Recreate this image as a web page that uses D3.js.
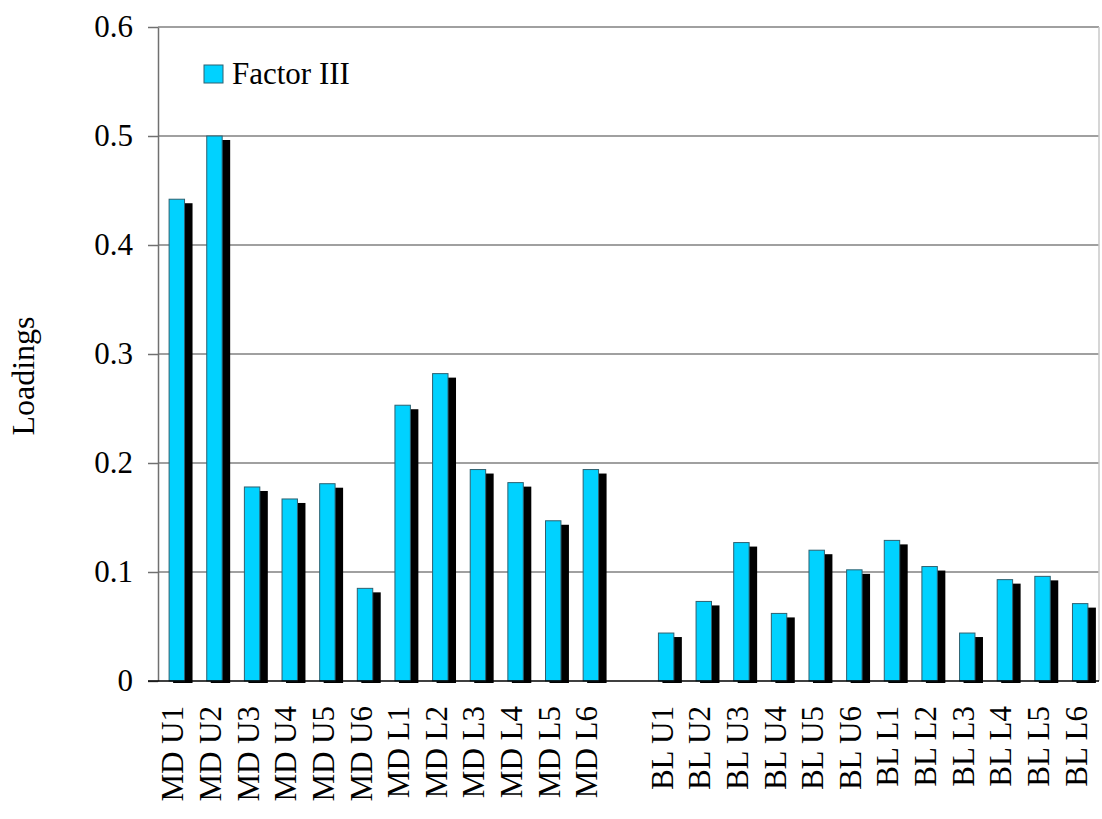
<!DOCTYPE html>
<html>
<head>
<meta charset="utf-8">
<script src="https://cdn.jsdelivr.net/npm/d3@7"></script>
<style>
  html, body { margin: 0; padding: 0; background: #fff; }
  svg { display: block; }
  text { font-family: "Liberation Serif", "Times New Roman", serif; fill: #000; }
</style>
</head>
<body>
<svg id="chart" width="1102" height="819"></svg>
<script>
// Factor III loadings for the MD and BL measurement sites
const mdCategories = ["MD U1", "MD U2", "MD U3", "MD U4", "MD U5", "MD U6",
                      "MD L1", "MD L2", "MD L3", "MD L4", "MD L5", "MD L6"];
const blCategories = ["BL U1", "BL U2", "BL U3", "BL U4", "BL U5", "BL U6",
                      "BL L1", "BL L2", "BL L3", "BL L4", "BL L5", "BL L6"];
const mdValues = [0.442, 0.500, 0.178, 0.167, 0.181, 0.085,
                  0.253, 0.282, 0.194, 0.182, 0.147, 0.194];
const blValues = [0.044, 0.073, 0.127, 0.062, 0.120, 0.102,
                  0.129, 0.105, 0.044, 0.093, 0.096, 0.071];
const yTicks = [0, 0.1, 0.2, 0.3, 0.4, 0.5, 0.6];
const seriesName = "Factor III";
const yTitle = "Loadings";

const GAP = "__gap__";
const domain = [...mdCategories, GAP, ...blCategories];
const data = [
  ...mdCategories.map((c, i) => ({ cat: c, value: mdValues[i] })),
  ...blCategories.map((c, i) => ({ cat: c, value: blValues[i] }))
];

const svg = d3.select("#chart");
const plotLeft = 158, plotRight = 1099, plotTop = 27, plotBottom = 681;

const x = d3.scaleBand().domain(domain).range([plotLeft, plotRight])
  .paddingInner(0.59).paddingOuter(0.295);
const y = d3.scaleLinear().domain([0, 0.6]).range([plotBottom, plotTop]);

const fill = "#00d2ff";
const edge = "#2e6070";

// horizontal gridlines
svg.append("g").selectAll("line").data(yTicks.filter(d => d > 0)).join("line")
  .attr("x1", plotLeft).attr("x2", plotRight)
  .attr("y1", d => y(d)).attr("y2", d => y(d))
  .attr("stroke", "#808080").attr("stroke-width", 1.5);

// right border of the plot area
svg.append("line")
  .attr("x1", plotRight).attr("x2", plotRight).attr("y1", y(0.6)).attr("y2", y(0))
  .attr("stroke", "#c8c8c8").attr("stroke-width", 1.5);

// y axis
const yAxis = d3.axisLeft(y).tickValues(yTicks)
  .tickFormat(d => d === 0 ? "0" : d3.format(".1f")(d))
  .tickSizeInner(10).tickSizeOuter(0).tickPadding(15);
const gy = svg.append("g").attr("transform", `translate(${plotLeft},0)`).call(yAxis);
gy.select(".domain").attr("stroke", "#707070").attr("stroke-width", 1.5);
gy.selectAll(".tick line").attr("stroke", "#707070").attr("stroke-width", 1.5);
gy.selectAll(".tick text")
  .style("font-family", '"Liberation Serif", serif')
  .style("font-size", "31px").attr("fill", "#000");

// drop shadows behind the bars
const bw = x.bandwidth();
svg.append("g").selectAll("rect").data(data).join("rect")
  .attr("x", d => x(d.cat) + 4)
  .attr("y", d => y(d.value) + 4)
  .attr("width", bw + 4)
  .attr("height", d => y(0) - y(d.value) - 2)
  .attr("fill", "#000");

// bars
svg.append("g").selectAll("rect").data(data).join("rect")
  .attr("x", d => x(d.cat))
  .attr("y", d => y(d.value))
  .attr("width", bw)
  .attr("height", d => y(0) - y(d.value))
  .attr("fill", fill)
  .attr("stroke", edge).attr("stroke-width", 1);

// baseline
svg.append("line")
  .attr("x1", plotLeft - 10).attr("x2", plotRight).attr("y1", y(0)).attr("y2", y(0))
  .attr("stroke", "#000").attr("stroke-width", 1.5);

// x axis category labels (rotated)
const xAxis = d3.axisBottom(x).tickValues(domain.filter(d => d !== GAP))
  .tickSize(0).tickPadding(0);
const gx = svg.append("g").attr("transform", `translate(0,${plotBottom})`).call(xAxis);
gx.select(".domain").remove();
gx.selectAll(".tick text")
  .style("font-family", '"Liberation Serif", serif')
  .style("font-size", "31px").attr("fill", "#000")
  .attr("text-anchor", "end")
  .attr("transform", "translate(6.5,25) rotate(-90)")
  .attr("x", 0).attr("y", 0).attr("dy", 0);

// y axis title
svg.append("text")
  .attr("transform", "translate(34,376) rotate(-90)")
  .attr("text-anchor", "middle")
  .style("font-size", "32px")
  .text(yTitle);

// legend
const lg = svg.append("g").attr("transform", "translate(204,65)");
lg.append("rect").attr("x", 0).attr("y", 0).attr("width", 19).attr("height", 18)
  .attr("fill", fill).attr("stroke", edge).attr("stroke-width", 1);
lg.append("text").attr("x", 28).attr("y", 19)
  .style("font-size", "31px").text(seriesName);
</script>
</body>
</html>
